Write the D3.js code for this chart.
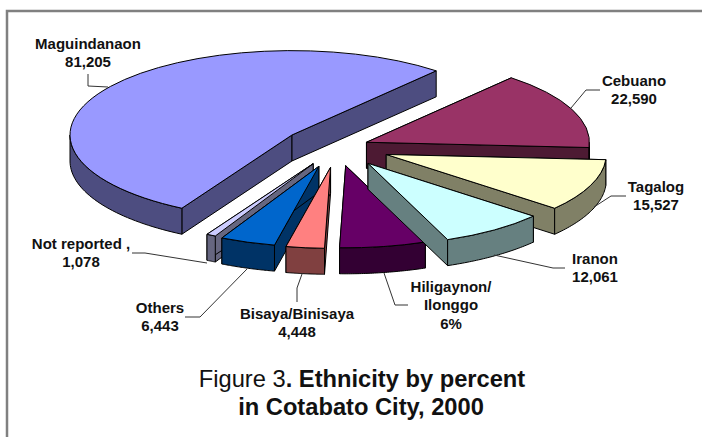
<!DOCTYPE html>
<html>
<head>
<meta charset="utf-8">
<script src="https://cdn.jsdelivr.net/npm/d3@7/dist/d3.min.js"></script>
<style>
html,body{margin:0;padding:0;background:#fff;overflow:hidden;}
svg{display:block;}
text{font-family:"Liberation Sans",Arial,sans-serif;fill:#111;}
</style>
</head>
<body>
<svg id="c" width="702" height="437"></svg>
<script>
const categories = ["Maguindanaon","Cebuano","Tagalog","Iranon","Hiligaynon/Ilonggo","Bisaya/Binisaya","Others","Not reported"];
const values = [81205,22590,15527,12061,9900,4448,6443,1078];
const valueLabels = ["81,205","22,590","15,527","12,061","6%","4,448","6,443","1,078"];
const explode = [55,32,53,53,50,54,54,50];
const radii = [222,223,220,216,216,213,212,214];
const topColors = ["#9999FF","#993366","#FFFFCC","#CCFFFF","#660066","#FF8080","#0066CC","#CCCCFF"];
const sideColors = ["#4D4D80","#4D1A33","#808066","#668080","#330033","#804040","#003366","#666680"];
const drawOrder = [0,1,2,7,6,5,4,3];

const W=702,H=437, cx=337, cy=147, K=0.38, depth=26;
const TAU=Math.PI*2;
const firstEnd=40.5/360*TAU;
const startAngle=firstEnd-values[0]/d3.sum(values)*TAU;

const svg=d3.select("#c");
svg.append("path").attr("d",d3.line()([[7,H],[7,11],[W,11]]))
  .attr("fill","none").attr("stroke","#808080").attr("stroke-width",2.5);

const pie=d3.pie().sort(null).startAngle(startAngle).endAngle(startAngle+TAU);
const arcs=pie(values);
const proj=(a,r)=>[r*Math.sin(a), -r*Math.cos(a)*K];

const g=svg.append("g");
drawOrder.forEach(i=>{
  const d=arcs[i], R=radii[i];
  const arcGen=d3.arc().innerRadius(0).outerRadius(R);
  const mid=(d.startAngle+d.endAngle)/2;
  const off=proj(mid,explode[i]);
  const s=g.append("g").attr("transform",`translate(${cx+off[0]},${cy+off[1]})`);
  const line=d3.line();
  const wallFill=sideColors[i];
  const radial=a=>{
    const p=proj(a,R);
    return line([[0,0],p,[p[0],p[1]+depth],[0,depth]])+"Z";
  };
  [d.startAngle,d.endAngle].forEach(a=>{
    s.append("path").attr("d",radial(a)).attr("fill",wallFill).attr("stroke","#000").attr("stroke-width",1).attr("stroke-linejoin","round");
  });
  // outer wall, only on the front half of the ellipse
  [[Math.PI/2,Math.PI*1.5],[Math.PI/2-TAU,Math.PI*1.5-TAU]].forEach(([lo,hi])=>{
    const a=Math.max(d.startAngle,lo), b=Math.min(d.endAngle,hi);
    if(b<=a) return;
    const pts=d3.range(0,41).map(t=>proj(a+(b-a)*t/40,R));
    const poly=pts.concat(pts.slice().reverse().map(p=>[p[0],p[1]+depth]));
    s.append("path").attr("d",line(poly)+"Z").attr("fill",wallFill).attr("stroke","#000").attr("stroke-width",1).attr("stroke-linejoin","round");
  });
  s.append("path").attr("d",arcGen(d)).attr("transform",`scale(1,${K})`)
    .attr("fill",topColors[i]).attr("stroke","#000").attr("stroke-width",1)
    .attr("stroke-linejoin","round").attr("vector-effect","non-scaling-stroke");
});

// leader lines
const leaders=[
 [[88,74],[88,86],[108,87]],
 [[571,108],[586,90],[600,90]],
 [[594,207],[611,196],[626,196]],
 [[494,255],[553,268],[565,268]],
 [[384,273],[395,305],[408,305]],
 [[302,274],[297,288],[297,302]],
 [[247,269],[200,317],[185,317]],
 [[207,263],[145,253],[132,253]]
];
svg.append("g").selectAll("path").data(leaders).join("path")
  .attr("d",d3.line()).attr("fill","none").attr("stroke","#333").attr("stroke-width",1);

// labels
const labelPos=[[88,49],[634,86],[656,192],[595,264],[451,292],[297,319],[160,313],[81,249]];
const labelLines=[
 [categories[0],valueLabels[0]],
 [categories[1],valueLabels[1]],
 [categories[2],valueLabels[2]],
 [categories[3],valueLabels[3]],
 ["Hiligaynon/","Ilonggo",valueLabels[4]],
 [categories[5],valueLabels[5]],
 [categories[6],valueLabels[6]],
 [categories[7]+" ,",valueLabels[7]]
];
labelLines.forEach((ls,i)=>{
  ls.forEach((t,j)=>{
    svg.append("text").attr("x",labelPos[i][0]).attr("y",labelPos[i][1]+j*18.3)
      .attr("text-anchor","middle").attr("font-size",15).attr("font-weight","bold").text(t);
  });
});

// caption
const cap=svg.append("text").attr("x",362).attr("y",387).attr("text-anchor","middle").attr("font-size",23.7);
cap.append("tspan").text("Figure 3");
cap.append("tspan").attr("font-weight","bold").text(". Ethnicity by percent");
svg.append("text").attr("x",361).attr("y",415).attr("text-anchor","middle").attr("font-size",23.7).attr("font-weight","bold").text("in Cotabato City, 2000");
</script>
</body>
</html>
